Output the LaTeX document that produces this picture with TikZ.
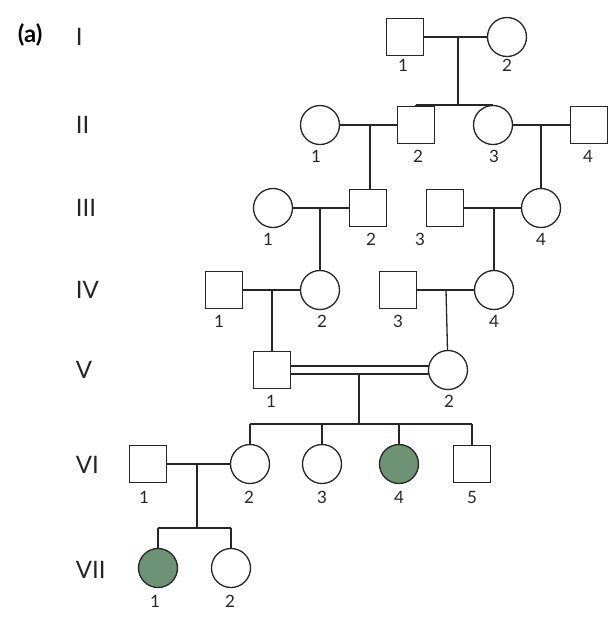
\documentclass[tikz,border=0pt]{standalone}
\usepackage{fontspec}
\setmainfont{Lato}
\begin{document}
\begin{tikzpicture}[x=1pt,y=-1pt,line width=1.3pt,
 sq/.style={draw=black!85,line width=1.3pt,minimum size=37pt,inner sep=0pt,fill=white},
 ci/.style={circle,draw=black!85,line width=1.3pt,minimum size=39pt,inner sep=0pt,fill=white},
 aff/.style={fill=aff},
 num/.style={font=\fontsize{17}{17}\selectfont,text=black!85},
 gen/.style={font=\fontsize{24}{24}\selectfont,text=black!85,anchor=west},
 ln/.style={draw=black!85,line width=1.3pt}]
\definecolor{aff}{RGB}{110,146,117}
\useasboundingbox (0,0) rectangle (610,622);
\node[font=\bfseries\fontsize{24}{24}\selectfont,anchor=west] (a) at (14,35) {(a)};
\foreach \t/\y [count=\i] in {I/37,II/125,III/208,IV/290,V/370,VI/465,VII/570}
  \node[gen] (g\i) at (72,\y) {\t};
% coordinates
\coordinate (m1) at (458,37); \coordinate (s1) at (458,105);
\coordinate (m2) at (370,125); \coordinate (m3) at (541,125);
\coordinate (m4) at (320,208); \coordinate (m5) at (494,208);
\coordinate (m6) at (272,290); \coordinate (m7) at (446,290);
\coordinate (m8) at (359,370); \coordinate (s8) at (359,424);
\coordinate (m9) at (197,464); \coordinate (s9) at (197,528);
% lines
\draw[ln] (405,37) -- (507,37);
\draw[ln] (m1) -- (s1); \draw[ln] (416,105) -- (493,105);
\draw[ln] (416,105) -- (416,125); \draw[ln] (493,105) -- (493,125);
\draw[ln] (320,125) -- (416,125); \draw[ln] (493,125) -- (589,125);
\draw[ln] (m2) -- (370,208); \draw[ln] (m3) -- (541,208);
\draw[ln] (273,208) -- (368,208); \draw[ln] (445,208) -- (541,208);
\draw[ln] (m4) -- (320,290); \draw[ln] (m5) -- (494,290);
\draw[ln] (224,290) -- (320,290); \draw[ln] (398,290) -- (494,290);
\draw[ln] (m6) -- (272,370); \draw[ln] (m7) -- (448,370);
\draw[ln] (272,366) -- (448,366); \draw[ln] (272,374) -- (448,374);
\draw[ln] (359,374) -- (s8);
\draw[ln] (250,424) -- (472,424);
\foreach \x in {250,322,399,472} \draw[ln] (\x,424) -- (\x,464);
\draw[ln] (148,464) -- (250,464); \draw[ln] (m9) -- (s9);
\draw[ln] (158,528) -- (231,528);
\draw[ln] (158,528) -- (158,568); \draw[ln] (231,528) -- (231,568);
% individuals
\node[sq] (I1) at (405,37) {}; \node[ci] (I2) at (507,37) {};
\node[ci] (II1) at (320,125) {}; \node[sq] (II2) at (416,125) {};
\node[ci] (II3) at (493,125) {}; \node[sq] (II4) at (589,125) {};
\node[ci] (III1) at (273,208) {}; \node[sq] (III2) at (368,208) {};
\node[sq] (III3) at (445,208) {}; \node[ci] (III4) at (541,208) {};
\node[sq] (IV1) at (224,290) {}; \node[ci] (IV2) at (320,290) {};
\node[sq] (IV3) at (398,290) {}; \node[ci] (IV4) at (494,290) {};
\node[sq] (V1) at (272,370) {}; \node[ci] (V2) at (448,370) {};
\node[sq] (VI1) at (148,464) {}; \node[ci] (VI2) at (250,464) {};
\node[ci] (VI3) at (322,464) {}; \node[ci,aff] (VI4) at (399,464) {};
\node[sq] (VI5) at (472,464) {};
\node[ci,aff] (VII1) at (158,568) {}; \node[ci] (VII2) at (231,568) {};
% labels
\foreach \n/\t/\x/\y in {I1/1/403/65,I2/2/507/65,II1/1/316/156,II2/2/418/156,II3/3/494/156,II4/4/588/156,
 III1/1/268/239,III2/2/371/239,III3/3/420/239,III4/4/541/239,IV1/1/219/321,IV2/2/322/321,IV3/3/398/321,IV4/4/494/321,
 V1/1/271/401,V2/2/449/401,VI1/1/144/497,VI2/2/249/497,VI3/3/322/497,VI4/4/399/497,VI5/5/472/497,VII1/1/155/601,VII2/2/230/601}
 \node[num] (l\n) at (\x,\y) {\t};
\end{tikzpicture}
\end{document}
